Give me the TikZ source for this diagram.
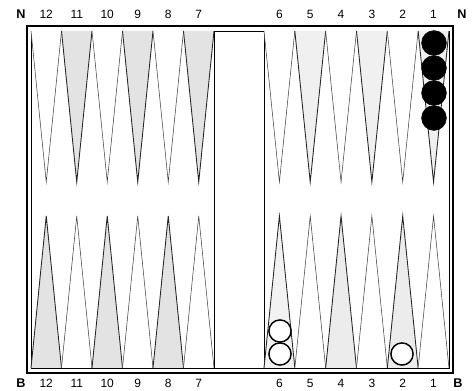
\documentclass[tikz,border=0pt]{standalone}
\usepackage{fontspec}
\setmainfont{Liberation Sans}
\usetikzlibrary{positioning}

\tikzset{
	spike/.style={draw=black!75, line width=0.4pt, line join=miter},
	shadedspike/.style={draw=black!85, line width=0.65pt, line join=miter},
	numlabel/.style={font=\fontsize{9}{10}\selectfont, inner sep=0pt},
	sidelabel/.style={font=\fontsize{9.5}{10}\selectfont\bfseries, inner sep=0pt},
	blackman/.style={circle, fill=black, draw=black, minimum size=18.6pt, inner sep=0pt},
	whiteman/.style={circle, fill=white, draw=black, line width=1.1pt, minimum size=16.6pt, inner sep=0pt}
}

\begin{document}
\begin{tikzpicture}[x=0.75pt, y=-0.75pt]
	\useasboundingbox (0,0) rectangle (476,391);

	% board frame
	\draw[line width=1.1pt] (27,26) rectangle (453,373);
	\draw[line width=0.5pt] (31,31) rectangle (449,368);
	\draw[line width=0.4pt] (214,31) -- (214,368);
	\draw[line width=0.4pt] (264,31) -- (264,368);

	% left half: points 12 .. 7
	\foreach \i/\tf/\ts in {0/white/spike, 1/gray!22/shadedspike, 2/white/spike, 3/gray!22/shadedspike, 4/white/spike, 5/gray!22/shadedspike} {
			\pgfmathsetmacro{\xa}{31+30.5*\i}
			\pgfmathsetmacro{\xb}{\xa+30.5}
			\pgfmathsetmacro{\xm}{\xa+15.25}
			\draw[\ts, fill=\tf] (\xa,31) -- (\xm,182) -- (\xb,31);
		}
	\foreach \i/\bf/\bs in {0/gray!22/shadedspike, 1/white/spike, 2/gray!22/shadedspike, 3/white/spike, 4/gray!22/shadedspike, 5/white/spike} {
			\pgfmathsetmacro{\xa}{31+30.5*\i}
			\pgfmathsetmacro{\xb}{\xa+30.5}
			\pgfmathsetmacro{\xm}{\xa+15.25}
			\draw[\bs, fill=\bf] (\xa,368) -- (\xm,216) -- (\xb,368);
		}

	% right half: points 6 .. 1
	\foreach \i/\tf/\ts in {0/white/spike, 1/gray!12/shadedspike, 2/white/spike, 3/gray!12/shadedspike, 4/white/spike, 5/gray!12/shadedspike} {
			\pgfmathsetmacro{\xa}{264+30.83*\i}
			\pgfmathsetmacro{\xb}{\xa+30.83}
			\pgfmathsetmacro{\xm}{\xa+15.4}
			\draw[\ts, fill=\tf] (\xa,31) -- (\xm,182) -- (\xb,31);
		}
	\foreach \i/\bf/\bs in {0/gray!10/shadedspike, 1/white/spike, 2/gray!15/shadedspike, 3/white/spike, 4/gray!15/shadedspike, 5/white/spike} {
			\pgfmathsetmacro{\xa}{264+30.83*\i}
			\pgfmathsetmacro{\xb}{\xa+30.83}
			\pgfmathsetmacro{\xm}{\xa+15.4}
			\draw[\bs, fill=\bf] (\xa,368) -- (\xm,216) -- (\xb,368);
		}

	% point numbers
	\foreach \n [count=\k from 0] in {12,11,10,9,8,7} {
			\node[numlabel] (top\n) at ({46.25+30.5*\k},14) {\n};
			\node[numlabel] (bot\n) at ({46.25+30.5*\k},383) {\n};
		}
	\foreach \n [count=\k from 0] in {6,5,4,3,2,1} {
			\node[numlabel] (top\n r) at ({279.4+30.83*\k},14) {\n};
			\node[numlabel] (bot\n r) at ({279.4+30.83*\k},383) {\n};
		}
	\node[sidelabel] (nleft) at (21,14) {N};
	\node[sidelabel] (nright) at (462,14) {N};
	\node[sidelabel] (bleft) at (21,383) {B};
	\node[sidelabel] (bright) at (458,383) {B};

	% black men on point 1
	\foreach \y [count=\k] in {43,68,93,118} {
			\node[blackman] (black\k) at (434,\y) {};
		}

	% white men on points 6 and 2
	\node[whiteman] (whiteA) at (280,354) {};
	\node[whiteman] (whiteB) at (280,331) {};
	\node[whiteman] (whiteC) at (402,354) {};
\end{tikzpicture}
\end{document}
